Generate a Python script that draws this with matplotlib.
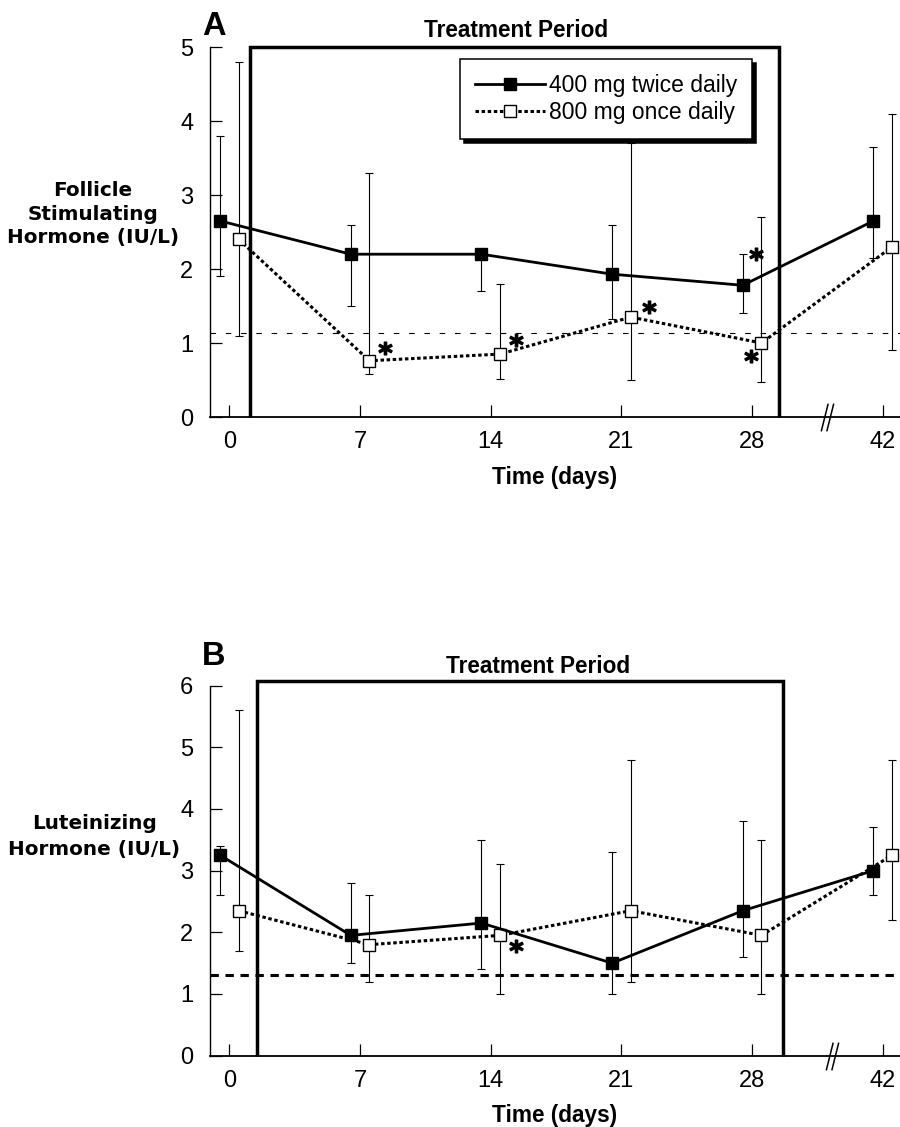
import matplotlib
matplotlib.use("Agg")
import matplotlib.pyplot as plt
from matplotlib.path import Path
from matplotlib.transforms import offset_copy
import numpy as np

# ---------------- data ----------------
days = [0, 7, 14, 21, 28, 42]
day_labels = ["0", "7", "14", "21", "28", "42"]
series_names = ["400 mg twice daily", "800 mg once daily"]

# Panel A: Follicle Stimulating Hormone (IU/L)
fsh_bid = [2.65, 2.2, 2.2, 1.93, 1.78, 2.65]
fsh_bid_lo = [1.9, 1.5, 1.7, 1.33, 1.4, 2.15]
fsh_bid_hi = [3.8, 2.6, 2.2, 2.6, 2.2, 3.65]
fsh_qd = [2.4, 0.76, 0.85, 1.35, 1.0, 2.3]
fsh_qd_lo = [1.1, 0.58, 0.51, 0.5, 0.47, 0.9]
fsh_qd_hi = [4.8, 3.3, 1.8, 3.7, 2.7, 4.1]
fsh_ref = 1.14

# Panel B: Luteinizing Hormone (IU/L)
lh_bid = [3.25, 1.95, 2.15, 1.5, 2.35, 3.0]
lh_bid_lo = [2.6, 1.5, 1.4, 1.0, 1.6, 2.6]
lh_bid_hi = [3.4, 2.8, 3.5, 3.3, 3.8, 3.7]
lh_qd = [2.35, 1.8, 1.95, 2.35, 1.95, 3.25]
lh_qd_lo = [1.7, 1.2, 1.0, 1.2, 1.0, 2.2]
lh_qd_hi = [5.6, 2.6, 3.1, 4.8, 3.5, 4.8]
lh_ref = 1.3

# treatment period (start, end in slot units, top)
treat_A = (1.11, 29.46, 5.0)
treat_B = (1.46, 29.66, 6.07)

# significance markers: (series 0=bid/1=qd, index)
stars_A = [(1, 1), (1, 2), (1, 3), (0, 4), (1, 4)]
stars_B = [(1, 2)]

# ---------------- style ----------------
plt.rcParams["font.family"] = ["Liberation Sans", "DejaVu Sans"]
plt.rcParams["lines.scale_dashes"] = False

W, H = 900, 1127
fig = plt.figure(figsize=(W / 100, H / 100), dpi=100)
axA = fig.add_axes([210 / W, 1 - 417 / H, 690 / W, 370 / H])
axB = fig.add_axes([210 / W, 1 - 1055.7 / H, 690 / W, 370.2 / H])

# evenly spaced slots; the axis is broken between 28 and 42
xpos = np.arange(len(days)) * 7.0

break_path = Path([(-0.45, -1), (0.05, 1), (-0.05, -1), (0.45, 1)],
                  [Path.MOVETO, Path.LINETO, Path.MOVETO, Path.LINETO])


def panel(ax, bid, bid_lo, bid_hi, qd, qd_lo, qd_hi, ref, ref_dash, ref_lw,
          ymax, treat, letter, letter_y, title_xy, ylabel, ylab_xy, lsp,
          xlab_y, stars, star_offsets, break_x, legend=False):
    ax.set_xlim(-1.04, 35.92)
    ax.set_ylim(0, ymax)
    xb = xpos - 0.5
    xq = xpos + 0.5
    bid = np.array(bid); qd = np.array(qd)
    for x, y, lo, hi in ((xb, bid, bid_lo, bid_hi), (xq, qd, qd_lo, qd_hi)):
        eb = ax.errorbar(x, y, yerr=[y - np.array(lo), np.array(hi) - y],
                         fmt="none", ecolor="black", elinewidth=0.8,
                         capsize=3.2, capthick=0.8, zorder=3)
        for art in eb.get_children():
            art.set_clip_on(False)
    ax.axhline(ref, color="black", lw=ref_lw, dashes=ref_dash, zorder=2)
    h_qd, = ax.plot(xq, qd, color="black", lw=2.2, dashes=(2.5, 1.9),
                    marker="s", ms=8, mfc="white", mec="black", mew=1,
                    clip_on=False, zorder=5, label=series_names[1])
    h_bid, = ax.plot(xb, bid, color="black", lw=2.0, marker="s", ms=8.5,
                     mfc="black", mec="black", clip_on=False, zorder=6,
                     label=series_names[0])
    s, e, top = treat
    ax.plot([s, s, e, e], [0, top, top, 0], color="black", lw=2.5,
            solid_joinstyle="miter", solid_capstyle="butt", clip_on=False,
            zorder=4)

    # significance asterisks
    for (ser, idx), (dx, dy) in zip(stars, star_offsets):
        x = (xb if ser == 0 else xq)[idx]
        y = (bid if ser == 0 else qd)[idx]
        tr = offset_copy(ax.transData, fig=fig, x=dx, y=dy, units="points")
        ax.plot([x], [y], marker="$\\mathbf{*}$", ms=9.5, color="black",
                transform=tr, clip_on=False, zorder=7, linestyle="none")

    # axis break
    ax.plot([break_x], [0], marker=break_path, ms=20, mfc="none",
            mec="black", mew=1.1, clip_on=False, zorder=7, linestyle="none")

    for sp in ("top", "right"):
        ax.spines[sp].set_visible(False)
    ax.spines["left"].set_linewidth(1.0)
    ax.spines["bottom"].set_linewidth(1.3)
    ax.set_xticks(xpos, day_labels)
    ax.set_yticks(range(0, ymax + 1))
    ax.tick_params(axis="both", direction="in", length=8.5, width=0.9,
                   labelsize=17, color="black")
    ax.tick_params(axis="x", pad=10)
    ax.tick_params(axis="y", pad=12)

    ax.set_ylabel(ylabel, rotation=0, ha="center", va="center", fontsize=14.4,
                  fontweight="bold", family="DejaVu Sans", linespacing=lsp)
    ax.yaxis.set_label_coords(*ylab_xy)
    ax.text(0.5, xlab_y, "Time (days)", transform=ax.transAxes, ha="center",
            va="baseline", fontsize=16.3, fontweight="bold")
    ax.text(0.0054, letter_y, letter, transform=ax.transAxes, ha="center",
            va="baseline", fontsize=23.5, fontweight="bold")
    ax.text(title_xy[0], title_xy[1], "Treatment Period", transform=ax.transAxes,
            ha="center", va="baseline", fontsize=16.3, fontweight="bold")

    if legend:
        leg = ax.legend(handles=[h_bid, h_qd], loc="upper left",
                        bbox_to_anchor=(0.3628, 0.9668), borderaxespad=0,
                        frameon=True, fancybox=False, edgecolor="black",
                        framealpha=1, fontsize=16.5, handlelength=3.05,
                        handletextpad=0.2, borderpad=0.64, labelspacing=0.18,
                        shadow={"ox": 2.5, "oy": -3, "facecolor": "black",
                                "edgecolor": "black", "alpha": 1})
        leg.get_frame().set_linewidth(1.1)
        leg.set_zorder(10)


panel(axA, fsh_bid, fsh_bid_lo, fsh_bid_hi, fsh_qd, fsh_qd_lo, fsh_qd_hi,
      fsh_ref, (4.0, 7.0), 0.8, 5, treat_A, "A", 1.0324, (0.4435, 1.0278),
      "Follicle\nStimulating\nHormone (IU/L)", (-0.1696, 0.5486), 1.3,
      -0.181, stars_A,
      [(11.4, 8.9), (11.4, 10.1), (13.0, 7.2), (9.8, 22.3), (-7.5, -9.4)],
      32.0, legend=True)

panel(axB, lh_bid, lh_bid_lo, lh_bid_hi, lh_qd, lh_qd_lo, lh_qd_hi,
      lh_ref, (6.0, 4.8), 2.2, 6, treat_B, "B", 1.0554, (0.476, 1.0330),
      "Luteinizing\nHormone (IU/L)", (-0.168, 0.592), 1.45,
      -0.178, stars_B, [(11.4, -7.9)], 32.3)

fig.savefig("out.png", dpi=100)
